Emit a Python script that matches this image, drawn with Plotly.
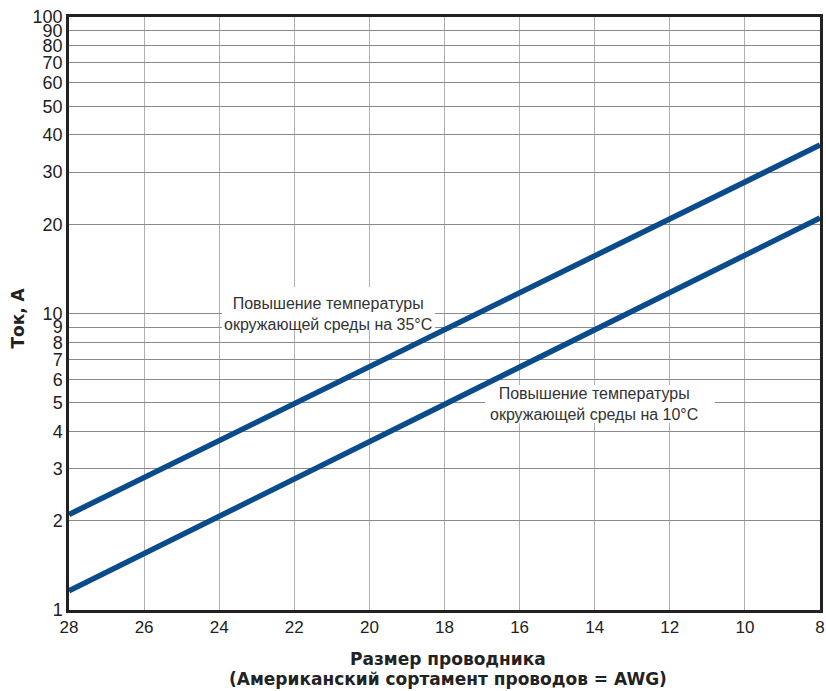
import plotly.graph_objects as go

# Data
awg = [28, 8]
current_35 = [2.1, 37]
current_10 = [1.16, 21]
x_ticks = [28, 26, 24, 22, 20, 18, 16, 14, 12, 10, 8]
y_ticks = [1, 2, 3, 4, 5, 6, 7, 8, 9, 10, 20, 30, 40, 50, 60, 70, 80, 90, 100]
label_35 = "Повышение температуры<br>окружающей среды на 35°C"
label_10 = "Повышение температуры<br>окружающей среды на 10°C"
x_title_1 = "Размер проводника"
x_title_2 = "(Американский сортамент проводов = AWG)"
y_title = "Ток, А"

blue = "#0a4b8c"
tick_fam = "Liberation Sans Narrow, Liberation Sans, Arial, sans-serif"
txt_fam = "Liberation Sans, Arial, sans-serif"
title_fam = "DejaVu Sans, Liberation Sans, sans-serif"

fig = go.Figure()
fig.add_trace(go.Scatter(x=awg, y=current_35, mode="lines",
                         line=dict(color=blue, width=5.5), hoverinfo="skip"))
fig.add_trace(go.Scatter(x=awg, y=current_10, mode="lines",
                         line=dict(color=blue, width=5.5), hoverinfo="skip"))

fig.update_layout(
    width=826, height=691,
    margin=dict(l=69, r=6, t=17, b=81),
    paper_bgcolor="white", plot_bgcolor="white",
    showlegend=False,
    font=dict(family=txt_fam, color="#222", size=14),
    xaxis=dict(range=[28, 8], tickvals=x_ticks, ticktext=[str(v) for v in x_ticks],
               showgrid=True, gridcolor="#b0b0b0", gridwidth=1.3,
               showline=True, linecolor="#222", linewidth=2.5, mirror=True,
               ticks="", zeroline=False, automargin=False,
               tickfont=dict(size=17, family=tick_fam)),
    yaxis=dict(type="log", range=[0, 2], tickvals=y_ticks,
               ticktext=[str(v) for v in y_ticks],
               showgrid=True, gridcolor="#8a8a8a", gridwidth=1.3,
               showline=True, linecolor="#222", linewidth=2.5, mirror=True,
               ticks="", zeroline=False, automargin=False,
               tickfont=dict(size=18, family=tick_fam)),
)

# white boxes behind the labels (mask gridlines, not the data lines)
fig.add_shape(type="rect", xref="x", yref="y", x0=23.93, x1=18.25, y0=8.8, y1=12.28,
              fillcolor="white", line=dict(width=0), layer="between")
fig.add_shape(type="rect", xref="x", yref="y", x0=16.92, x1=10.8, y0=4.27, y1=5.74,
              fillcolor="white", line=dict(width=0), layer="between")

fig.add_annotation(x=21.1, y=0.998, xref="x", yref="y", text=label_35,
                   showarrow=False, xanchor="center", yanchor="middle",
                   font=dict(size=16, color="#333", family=txt_fam))
fig.add_annotation(x=14.02, y=0.695, xref="x", yref="y", text=label_10,
                   showarrow=False, xanchor="center", yanchor="middle",
                   font=dict(size=16, color="#333", family=txt_fam))

fig.add_annotation(x=-0.068, y=0.493, xref="paper", yref="paper",
                   text="<b>" + y_title + "</b>", textangle=-90, showarrow=False,
                   xanchor="center", yanchor="middle",
                   font=dict(size=17, color="#222", family=title_fam))
fig.add_annotation(x=0.505, y=-0.0818, xref="paper", yref="paper",
                   text="<b>" + x_title_1 + "</b>", showarrow=False,
                   xanchor="center", yanchor="middle",
                   font=dict(size=17, color="#222", family=title_fam))
fig.add_annotation(x=0.505, y=-0.1164, xref="paper", yref="paper",
                   text="<b>" + x_title_2 + "</b>", showarrow=False,
                   xanchor="center", yanchor="middle",
                   font=dict(size=17, color="#222", family=title_fam))

fig.write_html("out.html", config={"displayModeBar": False},
               post_script="document.body.style.margin='0';")
